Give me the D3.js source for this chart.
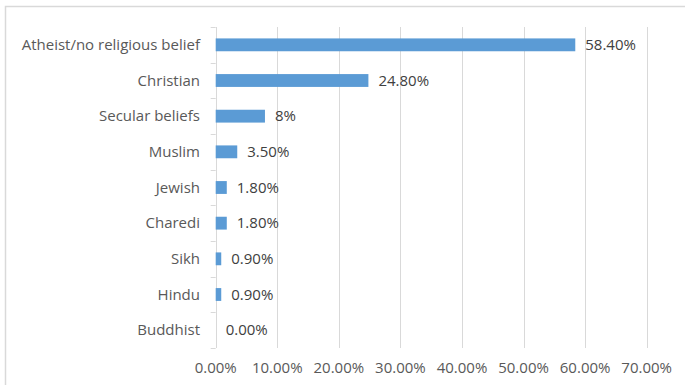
<!DOCTYPE html>
<html>
<head>
<meta charset="utf-8">
<script src="https://cdn.jsdelivr.net/npm/d3@7"></script>
<style>
  html, body { margin: 0; padding: 0; background: #fff; }
  svg { display: block; font-family: "Open Sans", sans-serif; }
</style>
</head>
<body>
<svg id="chart" width="685" height="385"></svg>
<script>
// Religion / belief shares (percent)
const categories = ["Atheist/no religious belief", "Christian", "Secular beliefs", "Muslim",
                    "Jewish", "Charedi", "Sikh", "Hindu", "Buddhist"];
const values = [58.4, 24.8, 8, 3.5, 1.8, 1.8, 0.9, 0.9, 0];
const valueLabels = ["58.40%", "24.80%", "8%", "3.50%", "1.80%", "1.80%", "0.90%", "0.90%", "0.00%"];
const xTicks = [0, 10, 20, 30, 40, 50, 60, 70];

const svg = d3.select("#chart");
const W = 685, H = 385;
const margin = { top: 27, right: 38, bottom: 37, left: 215.7 };
const fontSize = 15;

// Chart frame (top and left edges visible)
svg.append("rect")
  .attr("x", 5.5).attr("y", 6.5)
  .attr("width", W + 20).attr("height", H + 20)
  .attr("fill", "none").attr("stroke", "#d9d9d9").attr("stroke-width", 1.5);

const x = d3.scaleLinear().domain([0, 70]).range([margin.left, margin.left + 431]);
const y = d3.scaleBand().domain(categories).range([margin.top, H - margin.bottom]).paddingInner(0.64).paddingOuter(0.32);

// Vertical gridlines
svg.append("g").selectAll("line").data(xTicks.slice(1)).join("line")
  .attr("x1", d => Math.round(x(d)) + 0.5).attr("x2", d => Math.round(x(d)) + 0.5)
  .attr("y1", margin.top).attr("y2", H - margin.bottom)
  .attr("stroke", "#d9d9d9").attr("stroke-width", 1);

// Category axis with outer tick marks between bands
const step = y.step();
const bounds = d3.range(categories.length + 1).map(i => margin.top + i * step);
const yAxisG = svg.append("g");
yAxisG.append("line")
  .attr("x1", Math.round(x(0)) + 0.5).attr("x2", Math.round(x(0)) + 0.5)
  .attr("y1", margin.top).attr("y2", H - margin.bottom)
  .attr("stroke", "#d9d9d9");
yAxisG.selectAll("line.tk").data(bounds).join("line").attr("class", "tk")
  .attr("x1", x(0) - 5).attr("x2", x(0))
  .attr("y1", d => Math.round(d) + 0.5).attr("y2", d => Math.round(d) + 0.5)
  .attr("stroke", "#d9d9d9");

// Bars
svg.append("g").selectAll("rect").data(values).join("rect")
  .attr("x", x(0))
  .attr("y", (d, i) => y(categories[i]))
  .attr("width", d => x(d) - x(0))
  .attr("height", y.bandwidth())
  .attr("fill", "#5b9bd5");

// Category labels
svg.append("g").selectAll("text").data(categories).join("text")
  .attr("x", 200)
  .attr("y", d => y(d) + y.bandwidth() / 2)
  .attr("dy", "0.35em")
  .attr("text-anchor", "end")
  .attr("font-size", fontSize)
  .attr("fill", "#595959")
  .text(d => d);

// Value labels
svg.append("g").selectAll("text").data(values).join("text")
  .attr("x", d => x(d) + 10)
  .attr("y", (d, i) => y(categories[i]) + y.bandwidth() / 2)
  .attr("dy", "0.35em")
  .attr("font-size", fontSize)
  .attr("fill", "#404040")
  .text((d, i) => valueLabels[i]);

// X axis tick labels
svg.append("g").selectAll("text").data(xTicks).join("text")
  .attr("x", d => x(d))
  .attr("y", 368)
  .attr("dy", "0.35em")
  .attr("text-anchor", "middle")
  .attr("font-size", fontSize)
  .attr("fill", "#595959")
  .text(d => d3.format(".2f")(d) + "%");
</script>
</body>
</html>
